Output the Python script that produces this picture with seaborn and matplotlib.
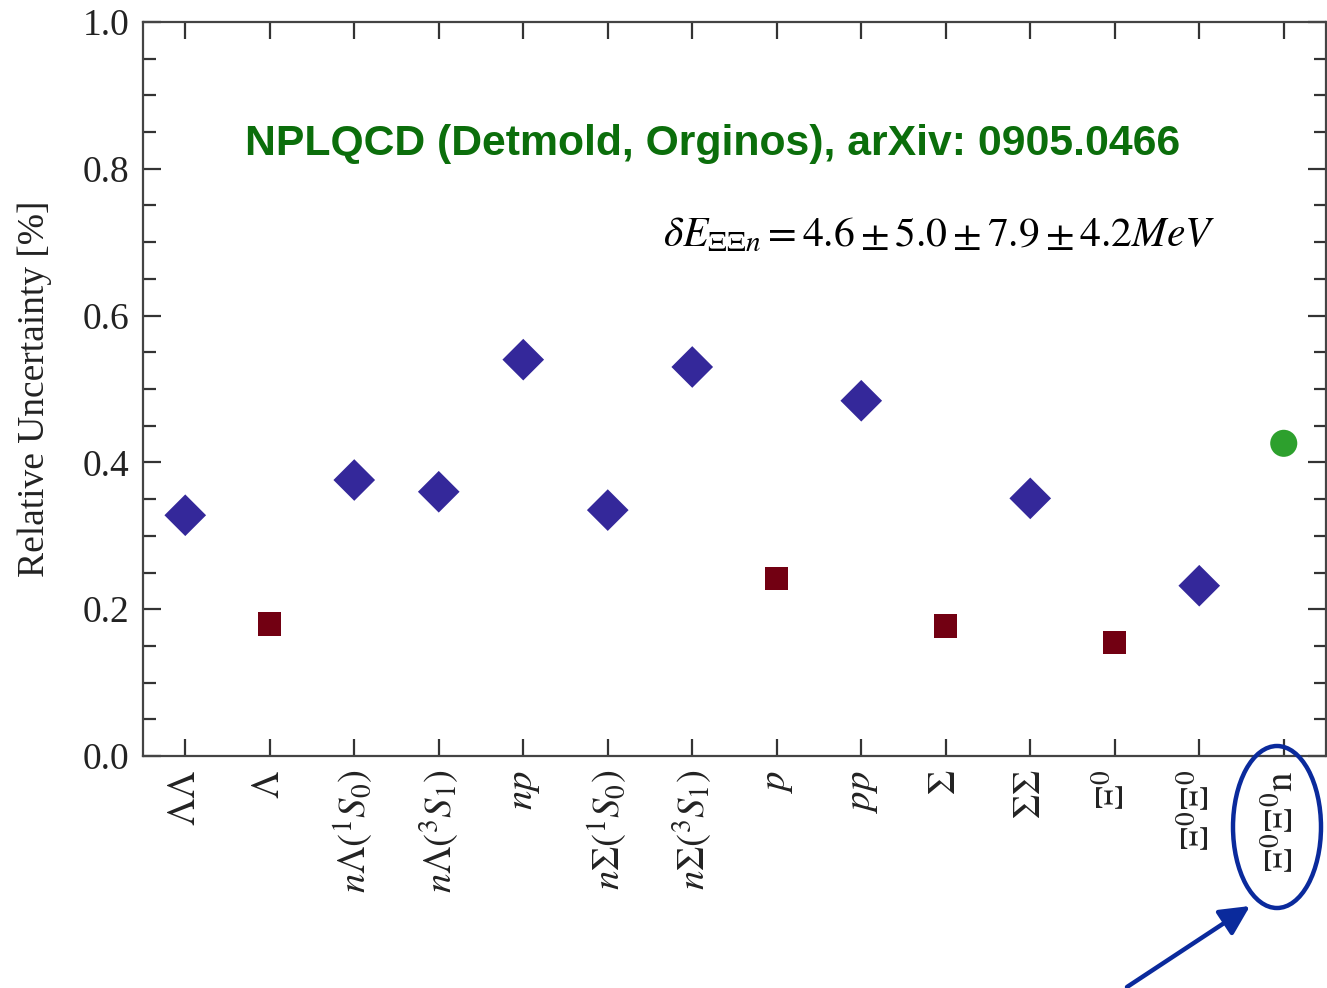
import numpy as np
import pandas as pd
import matplotlib
matplotlib.use("Agg")
import matplotlib.pyplot as plt
import seaborn as sns
from matplotlib.patches import Ellipse
from matplotlib.ticker import MultipleLocator, FormatStrFormatter

# Baryon channels and their relative uncertainties
channels = [
    r"$\Lambda\Lambda$", r"$\Lambda$", r"$n\Lambda(^1S_0)$", r"$n\Lambda(^3S_1)$",
    r"$np$", r"$n\Sigma(^1S_0)$", r"$n\Sigma(^3S_1)$", r"$p$", r"$pp$",
    r"$\Sigma$", r"$\Sigma\Sigma$", r"$\Xi^0$", r"$\Xi^0\Xi^0$", r"$\Xi^0\Xi^0\mathrm{n}$",
]
uncertainty = [0.328, 0.180, 0.376, 0.360, 0.540, 0.335, 0.530,
               0.242, 0.484, 0.177, 0.351, 0.155, 0.232, 0.426]
system = ["two-baryon", "single", "two-baryon", "two-baryon", "two-baryon",
          "two-baryon", "two-baryon", "single", "two-baryon", "single",
          "two-baryon", "single", "two-baryon", "three-baryon"]

df = pd.DataFrame({"channel": channels, "uncertainty": uncertainty, "system": system})

sns.set_theme(style="ticks")
plt.rcParams["font.family"] = ["Liberation Serif", "DejaVu Serif"]
plt.rcParams["mathtext.fontset"] = "stix"

fig = plt.figure(figsize=(13.27, 9.88), dpi=100)
ax = fig.add_axes([143 / 1327, 1 - 756 / 988, (1326 - 143) / 1327, (756 - 22) / 988])

palette = {"two-baryon": "#34289A", "single": "#720012", "three-baryon": "#2DA02D"}
markers = {"two-baryon": "D", "single": "s", "three-baryon": "o"}
sizes = {"two-baryon": 450, "single": 280, "three-baryon": 380}

sns.scatterplot(data=df, x="channel", y="uncertainty", hue="system", style="system",
                size="system", palette=palette, markers=markers, sizes=sizes,
                edgecolor="none", linewidth=0, legend=False, ax=ax, zorder=3)

ax.set_xlim(-0.5, len(channels) - 0.5)
ax.set_ylim(0, 1.0)
ax.yaxis.set_major_locator(MultipleLocator(0.2))
ax.yaxis.set_minor_locator(MultipleLocator(0.05))
ax.yaxis.set_major_formatter(FormatStrFormatter("%.1f"))
ax.set_xlabel("")
ax.set_ylabel("Relative Uncertainty [%]", fontsize=27, labelpad=22, color="#222222")

ax.set_xticks(range(len(channels)))
ax.set_xticklabels(channels, rotation=90, fontsize=28, va="top")
ax.tick_params(axis="both", which="both", direction="in", top=True, right=True,
               color="#333333", width=1.6)
ax.tick_params(axis="x", which="major", length=12, pad=10, labelcolor="#222222")
ax.tick_params(axis="y", which="major", length=13, pad=10, labelsize=27, labelcolor="#222222")
ax.tick_params(axis="y", which="minor", length=9)
for sp in ax.spines.values():
    sp.set_color("#444444")
    sp.set_linewidth(1.6)

# Reference and result annotations
fig.text(713 / 1327, 1 - 144 / 988, "NPLQCD (Detmold, Orginos), arXiv: 0905.0466",
         ha="center", va="center", fontsize=30.8, fontweight="bold",
         family="Liberation Sans", color="#0B6E0B")
fig.text(663 / 1327, 1 - 246 / 988,
         r"$\delta E_{\Xi\Xi n} = 4.6 \pm 5.0 \pm 7.9 \pm 4.2 MeV$",
         ha="left", va="baseline", fontsize=30, color="black")

# Highlight of the three-baryon channel
fig.add_artist(Ellipse((1277 / 1327, 1 - 827 / 988), 88 / 1327, 162 / 988,
                       transform=fig.transFigure, fill=False,
                       edgecolor="#0A2A9C", linewidth=3.2))
ax.annotate("", xy=(1250 / 1327, 1 - 906 / 988), xycoords="figure fraction",
            xytext=(1127 / 1327, 1 - 987 / 988), textcoords="figure fraction",
            arrowprops=dict(arrowstyle="-|>,head_length=0.6,head_width=0.3",
                            color="#0A2A9C", lw=3.2, shrinkA=0, shrinkB=0,
                            mutation_scale=30))

fig.savefig("out.png", dpi=100)
